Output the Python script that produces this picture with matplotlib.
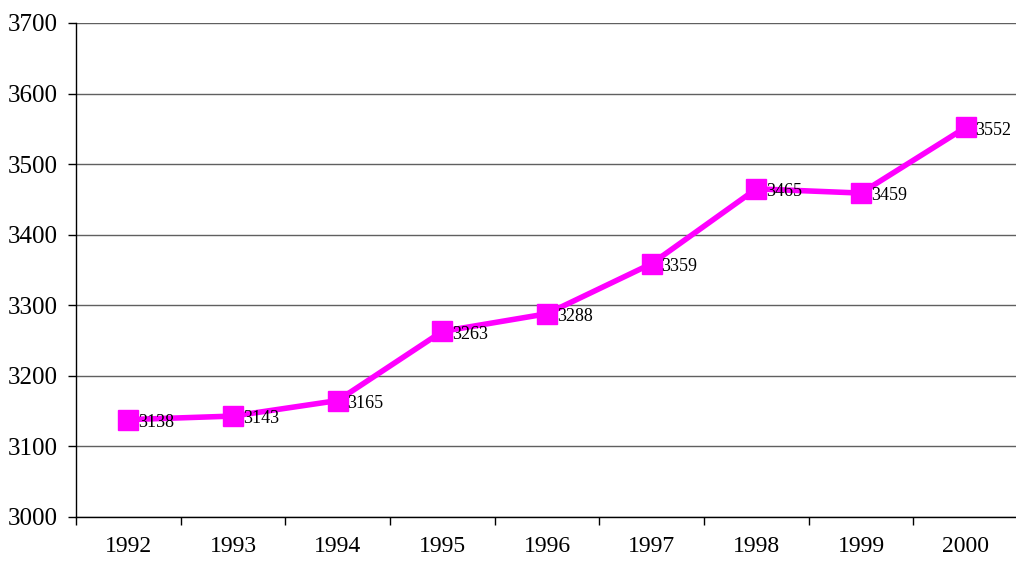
import numpy as np
import matplotlib.pyplot as plt

years = ['1992', '1993', '1994', '1995', '1996', '1997', '1998', '1999', '2000']
values = [3138, 3143, 3165, 3263, 3288, 3359, 3465, 3459, 3552]

plt.rcParams['font.family'] = 'Liberation Serif'

fig = plt.figure(figsize=(10.16, 5.61), dpi=100)
ax = fig.add_axes([76/1016, 44/561, 942/1016, 494/561])

x = np.arange(len(years))
ax.plot(x, values, color='#FF00FF', lw=4, marker='s', markersize=15, zorder=3)
for xi, v in zip(x, values):
    ax.annotate(str(v), (xi, v), xytext=(7, -2), textcoords='offset points',
                va='center', ha='left', fontsize=13, zorder=4)

ax.set_xlim(-0.5, len(years) - 0.5)
ax.set_ylim(3000, 3700)
ax.set_yticks(range(3000, 3701, 100))
ax.yaxis.grid(True, color='#606060', lw=1)
ax.set_axisbelow(True)

ax.set_xticks(x)
ax.set_xticklabels(years)
ax.set_xticks(np.arange(-0.5, len(years)), minor=True)
ax.tick_params(axis='x', which='major', length=0, pad=14, labelsize=17)
ax.tick_params(axis='x', which='minor', length=6, width=1, direction='out')
ax.tick_params(axis='y', length=6, width=1, labelsize=18, pad=7)

for s in ['top', 'right']:
    ax.spines[s].set_visible(False)
for s in ['left', 'bottom']:
    ax.spines[s].set_color('black')
    ax.spines[s].set_linewidth(1)

fig.savefig('out.png', dpi=100)
